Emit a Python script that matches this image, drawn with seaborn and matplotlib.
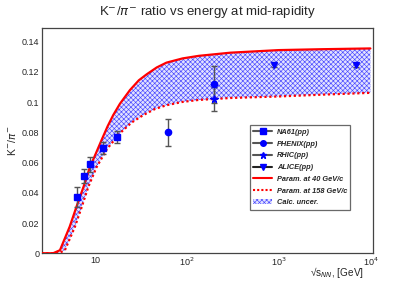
import numpy as np
import pandas as pd
import matplotlib
matplotlib.use('Agg')
import matplotlib.pyplot as plt
from matplotlib.lines import Line2D
from matplotlib.patches import Patch
from matplotlib.ticker import LogLocator, MultipleLocator, NullFormatter
import seaborn as sns

# curves (sqrt(s_NN) in GeV, K-/pi- ratio)
e_40 = [2.6, 3.5, 4.15, 5.3, 6.3, 7.5, 8.8, 10.2, 11.8, 13.7, 15.8, 18.7, 24, 30, 36.6, 47, 60, 90, 135, 300, 1000, 3000, 10000]
k_40 = [0.0, 0.0, 0.002, 0.0176, 0.031, 0.044, 0.057, 0.066, 0.075, 0.084, 0.0915, 0.099, 0.108, 0.1145, 0.1185, 0.123, 0.1262, 0.129, 0.1307, 0.1328, 0.1345, 0.1351, 0.1356]
e_158 = [2.6, 4.0, 4.7, 6.05, 7.2, 8.46, 10.4, 13.5, 18.7, 25, 33.6, 45, 60, 90, 134, 300, 1000, 3000, 10000]
k_158 = [0.0, 0.0, 0.002, 0.0176, 0.031, 0.044, 0.057, 0.069, 0.0795, 0.0865, 0.0915, 0.0955, 0.098, 0.1002, 0.1015, 0.1028, 0.1038, 0.105, 0.1062]

# measurements
na61_e = [6.3, 7.6, 8.8, 12.3, 17.3]
na61_k = [0.0374, 0.0511, 0.059, 0.0696, 0.0771]
na61_err = [0.0066, 0.0045, 0.0049, 0.004, 0.004]
phenix_e = [62.4, 200]
phenix_k = [0.080, 0.1118]
phenix_err = [0.009, 0.0125]
rhic_e = [200]
rhic_k = [0.102]
rhic_err = [0.008]
alice_e = [900, 7000]
alice_k = [0.1245, 0.1245]
alice_err = [0.001, 0.001]

sns.set_style('white')
plt.rcParams['font.family'] = ['Liberation Sans', 'DejaVu Sans']
plt.rcParams['hatch.linewidth'] = 0.45

fig = plt.figure(figsize=(4.15, 2.82), dpi=100)
ax = fig.add_axes([0.101, 0.102, 0.798, 0.798])

# uncertainty band between the two parametrisations
grid = np.sort(np.unique(np.concatenate([e_40, e_158])))
lo = np.interp(np.log10(grid), np.log10(e_158), k_158)
hi = np.interp(np.log10(grid), np.log10(e_40), k_40)
ax.fill_between(grid, lo, hi, facecolor='#e2e2ff', edgecolor='#4848ff', hatch='xxxxxxx', linewidth=0, zorder=1)

c40 = pd.DataFrame({'e': e_40, 'k': k_40})
c158 = pd.DataFrame({'e': e_158, 'k': k_158})
sns.lineplot(data=c40, x='e', y='k', ax=ax, color='red', lw=1.6, zorder=3)
sns.lineplot(data=c158, x='e', y='k', ax=ax, color='red', lw=1.6, ls=(0, (1, 1.2)), zorder=3)
ax.set_xlabel('')
ax.set_ylabel('')

ekw = dict(ls='none', color='blue', ecolor='#555555', elinewidth=1.0, capsize=2, capthick=1.0, zorder=4)
ax.errorbar(na61_e, na61_k, yerr=na61_err, marker='s', ms=5, **ekw)
ax.errorbar(phenix_e, phenix_k, yerr=phenix_err, marker='o', ms=4.5, **ekw)
ax.errorbar(rhic_e, rhic_k, yerr=rhic_err, marker='*', ms=5.5, **ekw)
ax.errorbar(alice_e, alice_k, yerr=alice_err, marker='v', ms=4.5, **ekw)

ax.set_xscale('log')
ax.set_xlim(2.64, 10700)
ax.set_ylim(0, 0.149)
ax.xaxis.set_minor_locator(LogLocator(base=10, subs=np.arange(2, 10), numticks=20))
ax.xaxis.set_minor_formatter(NullFormatter())
ax.set_xticks([10, 100, 1000, 10000])
ax.set_xticklabels(['10', '10$^{2}$', '10$^{3}$', '10$^{4}$'])
ax.yaxis.set_minor_locator(MultipleLocator(0.004))
ax.set_yticks([0, 0.02, 0.04, 0.06, 0.08, 0.1, 0.12, 0.14])
ax.set_yticklabels(['0', '0.02', '0.04', '0.06', '0.08', '0.1', '0.12', '0.14'])
ax.tick_params(axis='both', which='major', direction='in', length=8, width=0.8, labelsize=6.5, color='#444444', pad=2)
ax.tick_params(axis='both', which='minor', direction='in', length=4, width=0.8, color='#444444')
ax.tick_params(top=False, right=False, which='both')
for s in ax.spines.values():
    s.set_color('#444444')
    s.set_linewidth(0.9)

fig.text(0.876, 0.006, '\u221As$_{NN}$, [GeV]', fontsize=7.2, ha='right', va='bottom')
fig.text(0.028, 0.5, r'K$^{-}$/$\pi^{-}$', fontsize=7.5, rotation=90, ha='center', va='center')
fig.suptitle(r'K$^{-}$/$\pi^{-}$ ratio vs energy at mid-rapidity', fontsize=9.5, y=0.985)

handles = [
    Line2D([], [], color='#555555', marker='s', mfc='blue', mec='blue', ms=4),
    Line2D([], [], color='#555555', marker='o', mfc='blue', mec='blue', ms=4),
    Line2D([], [], color='#555555', marker='*', mfc='blue', mec='blue', ms=5),
    Line2D([], [], color='#222222', marker='v', mfc='blue', mec='blue', ms=4),
    Line2D([], [], color='red', lw=1.5),
    Line2D([], [], color='red', lw=1.5, ls=(0, (1, 1))),
    Patch(facecolor='#e2e2ff', edgecolor='#4848ff', hatch='xxxxxxx', lw=0),
]
labels = ['NA61(pp)', 'PHENIX(pp)', 'RHIC(pp)', 'ALICE(pp)', 'Param. at 40 GeV/c', 'Param. at 158 GeV/c', 'Calc. uncer.']
leg = fig.legend(handles, labels, loc='upper left', bbox_to_anchor=(0.602, 0.555),
                 prop={'size': 5.3, 'weight': 'bold', 'style': 'italic'},
                 frameon=True, fancybox=False, edgecolor='#444444', handlelength=2.6,
                 labelspacing=0.62, borderpad=0.45, handletextpad=0.6, borderaxespad=0)
leg.get_frame().set_linewidth(0.9)

fig.savefig('out.png', dpi=100)
